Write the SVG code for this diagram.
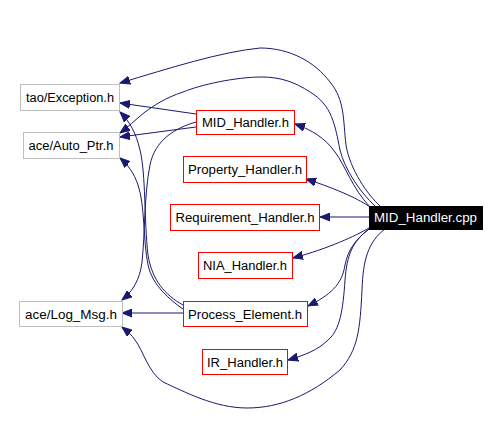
<svg xmlns="http://www.w3.org/2000/svg" width="499" height="430" viewBox="0 0 499 430">
<style>
.n rect{stroke-width:1}
.g rect{fill:#fff;stroke:#bfbfbf}
.r rect{fill:#fff;stroke:#ff0000}
.b rect{fill:#000;stroke:#000}
text{font-family:"Liberation Sans",Arial,sans-serif;font-size:12.5px;text-anchor:middle;fill:#000}
.b text{fill:#fff}
#edges path{fill:none;stroke:#191970;stroke-width:1;marker-end:url(#ah)}
</style>
<defs>
<marker id="ah" markerWidth="11" markerHeight="9" refX="10" refY="4.5" orient="auto" markerUnits="userSpaceOnUse">
<path d="M0,0.5 L10,4.5 L0,8.5 z" fill="#191970" stroke="#191970" stroke-width="1"/>
</marker>
</defs>
<rect width="499" height="430" fill="#fff"/>
<g id="edges">
<path d="M370,207 C352,188 345,165 335,152 C325,138 312,130 295,124"/>
<path d="M370,207 C360,200 340,190 306,179"/>
<path d="M369,217 L320,217"/>
<path d="M369,228 C355,236 330,248 293,258"/>
<path d="M369,229 C355,240 348,250 345,265 C342,285 330,295 308,306"/>
<path d="M369,229 C352,242 347,255 345,280 C343,310 340,330 328,340 C318,350 305,355 288,360"/>
<path d="M385,229 C368,242 363,260 362,290 C360,330 358,350 340,370 C310,395 280,408 247,408 C215,408 185,392 163,382 C148,372 143,350 135,340 C132,335 127,331 122,327"/>
<path d="M380,206 C368,195 350,170 346,145 C343,120 345,100 330,82 C315,62 290,48 260,48 C220,52 170,68 120,83"/>
<path d="M375,206 C360,192 345,170 340,150 C335,125 332,105 310,92 C295,82 280,77 262,77 C235,77 200,85 183,92 C165,98 155,105 145,112 C135,120 127,128 120,133"/>
<path d="M196,114 L120,103"/>
<path d="M196,127 L120,137"/>
<path d="M196,122 C175,128 155,140 150,165 C144,195 145,235 142,262 C140,280 132,292 122,300"/>
<path d="M183,313 L122,313"/>
<path d="M183,309 C170,300 152,285 148,265 C143,240 145,205 138,185 C134,173 128,165 120,158"/>
<path d="M183,305 C165,295 152,280 148,255 C144,220 146,175 140,150 C136,133 130,122 120,112"/>
</g>
<g id="n_exception" class="n g"><rect x="20.5" y="84.5" width="99" height="26"/><text x="70" y="102" textLength="88" lengthAdjust="spacingAndGlyphs">tao/Exception.h</text></g>
<g id="n_autoptr" class="n g"><rect x="23.5" y="132.5" width="96" height="26"/><text x="71" y="150" textLength="85" lengthAdjust="spacingAndGlyphs">ace/Auto_Ptr.h</text></g>
<g id="n_logmsg" class="n g"><rect x="19.5" y="301.5" width="103" height="25"/><text x="71" y="318.5" textLength="92" lengthAdjust="spacingAndGlyphs">ace/Log_Msg.h</text></g>
<g id="n_midh" class="n r"><rect x="196.5" y="110.5" width="98" height="24"/><text x="245.5" y="127" textLength="87" lengthAdjust="spacingAndGlyphs">MID_Handler.h</text></g>
<g id="n_prop" class="n r"><rect x="183.5" y="156.5" width="123" height="26"/><text x="245" y="174" textLength="114" lengthAdjust="spacingAndGlyphs">Property_Handler.h</text></g>
<g id="n_req" class="n r"><rect x="170.5" y="204.5" width="149" height="26"/><text x="245" y="222" textLength="139" lengthAdjust="spacingAndGlyphs">Requirement_Handler.h</text></g>
<g id="n_nia" class="n r"><rect x="198.5" y="252.5" width="94" height="26"/><text x="245" y="270" textLength="84" lengthAdjust="spacingAndGlyphs">NIA_Handler.h</text></g>
<g id="n_cpp" class="n b"><rect x="369.5" y="206.5" width="113" height="23"/><text x="425.5" y="222" textLength="103" lengthAdjust="spacingAndGlyphs">MID_Handler.cpp</text></g>
<g id="n_proc" class="n r"><rect x="183.5" y="301.5" width="124" height="25"/><text x="245" y="318.5" textLength="114" lengthAdjust="spacingAndGlyphs">Process_Element.h</text></g>
<g id="n_ir" class="n r"><rect x="202.5" y="349.5" width="85" height="25"/><text x="245" y="366.5" textLength="76" lengthAdjust="spacingAndGlyphs">IR_Handler.h</text></g>
</svg>
